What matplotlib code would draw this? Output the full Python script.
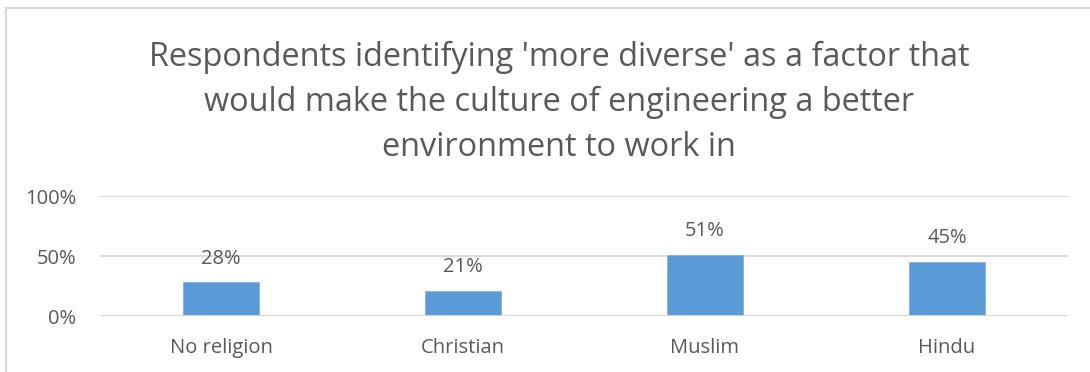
import matplotlib.pyplot as plt
from matplotlib.patches import Rectangle

categories = ['No religion', 'Christian', 'Muslim', 'Hindu']
values = [28, 21, 51, 45]
yticks = [0, 50, 100]

text_color = '#595959'
grid_color = '#D9D9D9'
bar_color = '#5B9BD5'

plt.rcParams['font.family'] = ['Open Sans', 'DejaVu Sans']

W, H = 1090, 372
fig = plt.figure(figsize=(W / 100, H / 100), dpi=100)

# chart frame (only left and top edges visible)
fig.patches.append(Rectangle((5.5 / W, -0.1), 1.2, (H - 7.5) / H + 0.1,
                             transform=fig.transFigure, fill=False,
                             edgecolor=grid_color, linewidth=1.5))

ax = fig.add_axes([100 / W, 56 / H, 968 / W, 120 / H])
x = range(len(categories))
ax.bar(x, values, width=0.31, color=bar_color, edgecolor='#7FB2E0', linewidth=0.6, zorder=3)
for i, v in enumerate(values):
    ax.annotate(f'{v}%', (i, v), xytext=(0, 10), textcoords='offset points',
                ha='center', va='bottom', fontsize=14.5, color=text_color)

ax.set_xlim(-0.5, len(categories) - 0.5)
ax.set_ylim(0, 100)
ax.set_yticks(yticks)
ax.set_yticklabels([f'{t}%' for t in yticks])
ax.set_xticks(list(x))
ax.set_xticklabels(categories)
ax.tick_params(axis='both', length=0, labelsize=14.5, labelcolor=text_color)
ax.tick_params(axis='y', pad=17)
ax.tick_params(axis='x', pad=16)
ax.grid(axis='y', color=grid_color, linewidth=1.3, zorder=0)
for s in ax.spines.values():
    s.set_visible(False)
ax.axhline(0, color=grid_color, linewidth=1.3, zorder=4)

fig.text(559 / W, 1 - 102 / H,
         "Respondents identifying 'more diverse' as a factor that\n"
         "would make the culture of engineering a better\n"
         "environment to work in",
         ha='center', va='center', fontsize=23.4, color=text_color,
         linespacing=1.47)

fig.savefig('out.png', dpi=100)
